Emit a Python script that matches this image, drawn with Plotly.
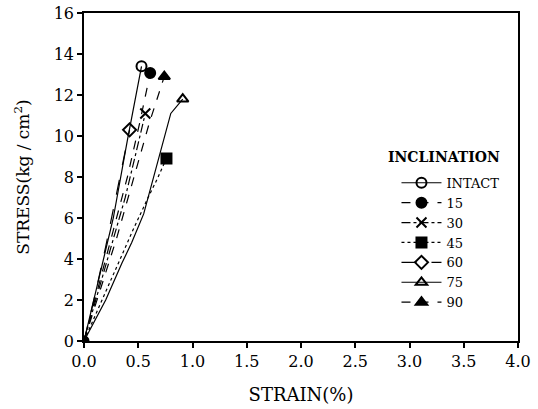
import plotly.graph_objects as go

# ---- data ----
labels = ["INTACT", "15", "30", "45", "60", "75", "90"]
legend_title = "INCLINATION"

strain_intact = [0, 0.08, 0.17, 0.27, 0.40, 0.53]
stress_intact = [0, 1.8, 3.8, 6.0, 9.8, 13.4]

strain_15 = [0, 0.12, 0.25, 0.40, 0.52, 0.61]
stress_15 = [0, 2.4, 5.0, 8.0, 10.8, 13.07]

strain_30 = [0, 0.12, 0.25, 0.38, 0.48, 0.565]
stress_30 = [0, 2.2, 4.6, 7.0, 9.2, 11.1]

strain_45 = [0, 0.15, 0.30, 0.45, 0.60, 0.67, 0.76]
stress_45 = [0, 1.8, 3.6, 5.4, 7.1, 7.85, 8.9]

strain_60 = [0, 0.10, 0.20, 0.30, 0.42]
stress_60 = [0, 2.2, 4.6, 7.2, 10.3]

strain_75 = [0, 0.20, 0.35, 0.44, 0.55, 0.65, 0.80, 0.91]
stress_75 = [0, 2.0, 3.8, 4.8, 6.2, 8.2, 11.1, 11.8]

strain_90 = [0, 0.15, 0.30, 0.45, 0.60, 0.74]
stress_90 = [0, 2.5, 5.0, 7.8, 10.6, 12.9]

x_ticks = [0.0, 0.5, 1.0, 1.5, 2.0, 2.5, 3.0, 3.5, 4.0]
x_tick_text = ["0.0", "0.5", "1.0", "1.5", "2.0", "2.5", "3.0", "3.5", "4.0"]
y_ticks = [0, 2, 4, 6, 8, 10, 12, 14, 16]

# ---- styles ----
series = [
    (strain_intact, stress_intact, "circle-open", "solid"),
    (strain_15, stress_15, "circle", "dash"),
    (strain_30, stress_30, "x-thin-open", "dashdot"),
    (strain_45, stress_45, "square", "dot"),
    (strain_60, stress_60, "diamond-open", "longdash"),
    (strain_75, stress_75, "triangle-up-open", "solid"),
    (strain_90, stress_90, "triangle-up", "dash"),
]

FONT = "DejaVu Serif"
fig = go.Figure()

for (xs, ys, sym, dash), name in zip(series, labels):
    fig.add_trace(go.Scatter(
        x=xs, y=ys, mode="lines", showlegend=False, legendgroup=name,
        line=dict(color="black", width=1.2, dash=dash),
        hoverinfo="skip"))
    fig.add_trace(go.Scatter(
        x=[xs[-1]], y=[ys[-1]], mode="markers", showlegend=False, legendgroup=name,
        marker=dict(symbol=sym, size=10, color="black",
                    line=dict(color="black", width=2))))
    fig.add_trace(go.Scatter(
        x=[None], y=[None], mode="lines+markers", name=name, legendgroup=name,
        line=dict(color="black", width=1.2, dash=dash),
        marker=dict(symbol=sym, size=10, color="black",
                    line=dict(color="black", width=2))))

fig.add_trace(go.Scatter(x=[strain_intact[0]], y=[stress_intact[0]], mode="markers",
                         showlegend=False,
                         marker=dict(symbol="circle", size=11, color="black")))

fig.add_annotation(
    text="<b>" + legend_title + "</b>", xref="paper", yref="paper",
    x=0.695, y=0.562, xanchor="left", yanchor="middle", showarrow=False,
    font=dict(family=FONT, size=14, color="black"))

fig.update_layout(
    width=538, height=409,
    margin=dict(l=84, r=20, t=13, b=68, autoexpand=False),
    paper_bgcolor="white", plot_bgcolor="white",
    font=dict(family=FONT, size=16, color="black"),
    legend=dict(
        x=0.72, y=0.528, xanchor="left", yanchor="top",
        font=dict(family=FONT, size=13, color="black"),
        bgcolor="rgba(0,0,0,0)", tracegroupgap=0, itemwidth=40),
    showlegend=True,
)
fig.update_xaxes(
    range=[0, 4.0], tickvals=x_ticks, ticktext=x_tick_text,
    ticks="outside", ticklen=5, tickwidth=1.5, tickcolor="black",
    showline=True, linecolor="black", linewidth=1.5, mirror=True,
    showgrid=False, zeroline=False, automargin=False,
    title=dict(text="STRAIN(%)", font=dict(family=FONT, size=18), standoff=18),
    tickfont=dict(family=FONT, size=16))
fig.update_yaxes(
    range=[0, 16], tickvals=y_ticks,
    ticks="outside", ticklen=5, tickwidth=1.5, tickcolor="black",
    showline=True, linecolor="black", linewidth=1.5, mirror=True,
    showgrid=False, zeroline=False, automargin=False,
    title=dict(text="STRESS(kg / cm<sup>2</sup>)", font=dict(family=FONT, size=17), standoff=20),
    tickfont=dict(family=FONT, size=16))

fig.write_html("out.html")
